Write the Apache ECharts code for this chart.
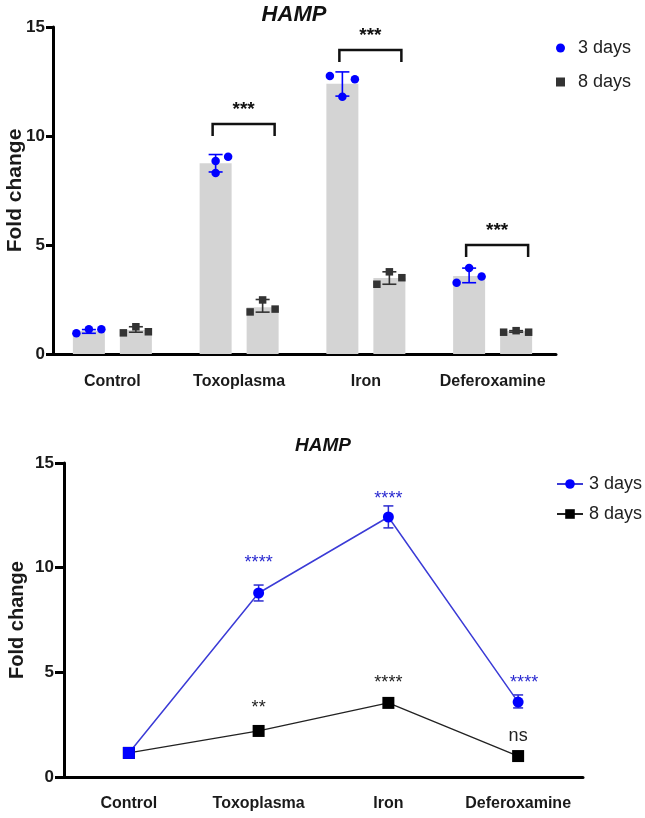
<!DOCTYPE html>
<html><head><meta charset="utf-8">
<script src="https://cdn.jsdelivr.net/npm/echarts@6/dist/echarts.min.js"></script>
<style>html,body{margin:0;padding:0;background:#fff}#c{width:645px;height:818px}</style>
</head><body><div id="c"></div>
<script>
// ---------- DATA ----------
const categories = ['Control', 'Toxoplasma', 'Iron', 'Deferoxamine'];
const yMin = 0, yMax = 15, yStep = 5;

// Top panel (bars = means, dots = replicates, error bars)
const bar3 = [1.05, 8.75, 12.4, 3.58];
const bar8 = [1.1, 2.15, 3.49, 1.05];
const err3Low = [0.95, 8.35, 11.83, 3.27];
const err3High = [1.12, 9.15, 12.94, 3.94];
const err8Low = [1.0, 1.92, 3.2, 1.0];
const err8High = [1.25, 2.5, 3.77, 1.07];
const reps3 = [[0.95, 1.13, 1.13], [8.85, 8.3, 9.05], [12.75, 11.8, 12.6], [3.27, 3.94, 3.55]];
const reps8 = [[0.97, 1.25, 1.02], [1.93, 2.48, 2.06], [3.2, 3.77, 3.5], [1.0, 1.07, 1.0]];
const jitter3 = [[-1, 0, 1], [0, 0, 1], [-1, 0, 1], [-1, 0, 1]];
const jitter8 = [[-1, 0, 1], [-1, 0, 1], [-1, 0, 1], [-1, 0, 1]];
const bracketCats = [1, 2, 3];
const bracketLevel = [10.55, 13.95, 5.0];
const bracketText = ['***', '***', '***'];

// Bottom panel (means with SD)
const line3 = [1.15, 8.79, 12.42, 3.58];
const line3Low = [1.15, 8.41, 11.9, 3.3];
const line3High = [1.15, 9.17, 12.95, 3.92];
const line8 = [1.15, 2.2, 3.54, 1.0];
const sig3Text = ['', '****', '****', '****'];
const sig3Level = [null, 10.37, 13.43, 4.63];
const sig8Text = ['', '**', '****', 'ns'];
const sig8Level = [null, 3.44, 4.63, 1.96];

// ---------- STYLE / LAYOUT ----------
const BLUE = '#0000ff', DARK = '#333333', BAR = '#d4d4d4';
const BAR_W = 32, BAR_OFF = 23.5, JIT = 12.5;
const FONT = 'Liberation Sans';

const chart = echarts.init(document.getElementById('c'), null, {renderer: 'canvas'});

function repData(reps, jit) {
  const out = [];
  reps.forEach((arr, i) => arr.forEach((v, k) => out.push([i, v, jit[i][k]])));
  return out;
}
function dotSeries(name, reps, jit, off, shape, color, size) {
  return {
    name, type: 'custom', xAxisIndex: 0, yAxisIndex: 0, z: 5,
    itemStyle: {color},
    data: repData(reps, jit),
    encode: {x: 0, y: 1},
    renderItem: (p, api) => {
      const c = api.coord([api.value(0), api.value(1)]);
      const x = c[0] + off + api.value(2) * JIT;
      if (shape === 'circle') return {type: 'circle', shape: {cx: x, cy: c[1], r: size / 2}, style: {fill: color}};
      return {type: 'rect', shape: {x: x - size / 2, y: c[1] - size / 2, width: size, height: size}, style: {fill: color}};
    }
  };
}
function errSeries(low, high, off, color, cap, xi, yi, lw) {
  return {
    type: 'custom', xAxisIndex: xi, yAxisIndex: yi, z: 4, silent: true,
    data: low.map((l, i) => [i, l, high[i]]),
    encode: {x: 0, y: [1, 2]},
    renderItem: (p, api) => {
      const a = api.coord([api.value(0), api.value(1)]);
      const b = api.coord([api.value(0), api.value(2)]);
      const x = a[0] + off;
      const st = {stroke: color, lineWidth: lw};
      return {type: 'group', children: [
        {type: 'line', shape: {x1: x, y1: a[1], x2: x, y2: b[1]}, style: st},
        {type: 'line', shape: {x1: x - cap, y1: a[1], x2: x + cap, y2: a[1]}, style: st},
        {type: 'line', shape: {x1: x - cap, y1: b[1], x2: x + cap, y2: b[1]}, style: st}
      ]};
    }
  };
}
const xLabel = {interval: 0, color: '#1a1a1a', fontFamily: FONT, fontWeight: 'bold', fontSize: 16};

const option = {
  animation: false,
  backgroundColor: '#fff',
  graphic: [
    {type: 'text', x: 294, y: 15, style: {text: 'HAMP', align: 'center', verticalAlign: 'middle', textAlign: 'center', textVerticalAlign: 'middle', font: 'italic bold 22px ' + FONT, fill: '#111'}},
    {type: 'text', x: 323, y: 446, style: {text: 'HAMP', align: 'center', verticalAlign: 'middle', textAlign: 'center', textVerticalAlign: 'middle', font: 'italic bold 19px ' + FONT, fill: '#111'}}
  ],
  legend: [
    {
      orient: 'vertical', left: 551, top: 34, itemGap: 16, itemWidth: 9, itemHeight: 9,
      data: [{name: '3 days', icon: 'circle'}, {name: '8 days', icon: 'rect'}],
      textStyle: {fontFamily: FONT, fontSize: 18, color: '#222', padding: [0, 0, 0, 8]},
      selectedMode: false
    },
    {
      orient: 'vertical', left: 551, top: 470, itemGap: 12, itemWidth: 26, itemHeight: 12,
      data: ['L3', 'L8'],
      formatter: n => (n === 'L3' ? '3 days' : '8 days'),
      textStyle: {fontFamily: FONT, fontSize: 18, color: '#222', padding: [0, 0, 0, 1]},
      selectedMode: false
    }
  ],
  grid: [
    {left: 49, width: 507, top: 27, height: 327, outerBoundsMode: 'none', containLabel: false},
    {left: 64, width: 519, top: 463, height: 314, outerBoundsMode: 'none', containLabel: false}
  ],
  xAxis: [
    {
      type: 'category', gridIndex: 0, data: categories,
      axisLine: {lineStyle: {color: '#000', width: 3}},
      axisTick: {interval: 0, alignWithLabel: true, length: 8, lineStyle: {color: '#000', width: 3}},
      axisLabel: Object.assign({margin: 20}, xLabel)
    },
    {
      type: 'category', gridIndex: 1, data: categories,
      axisLine: {lineStyle: {color: '#000', width: 3}},
      axisTick: {interval: 0, alignWithLabel: true, length: 9, lineStyle: {color: '#000', width: 3}},
      axisLabel: Object.assign({margin: 19}, xLabel)
    }
  ],
  yAxis: [
    {
      type: 'value', gridIndex: 0, min: yMin, max: yMax, interval: yStep, offset: -4,
      axisLine: {show: true, lineStyle: {color: '#000', width: 3}},
      axisTick: {show: true, length: 7, lineStyle: {color: '#000', width: 3}},
      splitLine: {show: false},
      axisLabel: {margin: 8, color: '#1a1a1a', fontFamily: FONT, fontWeight: 'bold', fontSize: 17},
      name: 'Fold change', nameLocation: 'middle', nameRotate: 90, nameGap: 27, nameMoveOverlap: false,
      nameTextStyle: {fontFamily: FONT, fontWeight: 'bold', fontSize: 21, color: '#1a1a1a'}
    },
    {
      type: 'value', gridIndex: 1, min: yMin, max: yMax, interval: yStep,
      axisLine: {show: true, lineStyle: {color: '#000', width: 3}},
      axisTick: {show: true, length: 9, lineStyle: {color: '#000', width: 3}},
      splitLine: {show: false},
      axisLabel: {margin: 10, color: '#1a1a1a', fontFamily: FONT, fontWeight: 'bold', fontSize: 17},
      name: 'Fold change', nameLocation: 'middle', nameRotate: 90, nameGap: 37, nameMoveOverlap: false,
      nameTextStyle: {fontFamily: FONT, fontWeight: 'bold', fontSize: 20, color: '#1a1a1a'}
    }
  ],
  series: [
    {name: 'bar3', type: 'bar', xAxisIndex: 0, yAxisIndex: 0, data: bar3, barWidth: BAR_W, barGap: (15 / BAR_W * 100) + '%', itemStyle: {color: BAR}, silent: true},
    {name: 'bar8', type: 'bar', xAxisIndex: 0, yAxisIndex: 0, data: bar8, barWidth: BAR_W, barGap: (15 / BAR_W * 100) + '%', itemStyle: {color: BAR}, silent: true},
    errSeries(err3Low, err3High, -BAR_OFF, BLUE, 7, 0, 0, 1.6),
    errSeries(err8Low, err8High, BAR_OFF, DARK, 7, 0, 0, 1.6),
    dotSeries('3 days', reps3, jitter3, -BAR_OFF, 'circle', BLUE, 8.5),
    dotSeries('8 days', reps8, jitter8, BAR_OFF, 'rect', DARK, 7.5),
    {
      type: 'custom', xAxisIndex: 0, yAxisIndex: 0, z: 6, silent: true,
      data: bracketCats.map((c, i) => [c, bracketLevel[i], i]),
      encode: {x: 0, y: 1},
      renderItem: (p, api) => {
        const c = api.coord([api.value(0), api.value(1)]);
        const x1 = c[0] - BAR_OFF - 3, x2 = c[0] + BAR_OFF + 12, y = c[1];
        return {type: 'group', children: [
          {type: 'polyline', shape: {points: [[x1, y + 12], [x1, y], [x2, y], [x2, y + 12]]}, style: {stroke: '#111', lineWidth: 2.5, fill: null}},
          {type: 'text', x: (x1 + x2) / 2, y: y - 5, style: {text: bracketText[api.value(2)], align: 'center', verticalAlign: 'bottom', textAlign: 'center', textVerticalAlign: 'bottom', font: 'bold 19px ' + FONT, fill: '#111'}}
        ]};
      }
    },
    // bottom panel
    {
      name: 'L8', type: 'line', xAxisIndex: 1, yAxisIndex: 1, data: line8, z: 3,
      symbol: 'rect', symbolSize: 12, itemStyle: {color: '#000'},
      lineStyle: {color: '#222', width: 1.3}
    },
    {
      name: 'L3', type: 'line', xAxisIndex: 1, yAxisIndex: 1, z: 4,
      data: line3.map((v, i) => i === 0 ? {value: v, symbol: 'rect', symbolSize: 12} : v),
      symbol: 'circle', symbolSize: 11, itemStyle: {color: BLUE},
      lineStyle: {color: '#3b3bd6', width: 1.5}
    },
    errSeries(line3Low, line3High, 0, '#2b2bd0', 5, 1, 1, 1.5),
    {
      type: 'custom', xAxisIndex: 1, yAxisIndex: 1, z: 6, silent: true,
      data: sig3Level.map((l, i) => [i, l, 0]).filter(d => d[1] !== null)
        .concat(sig8Level.map((l, i) => [i, l, 1]).filter(d => d[1] !== null)),
      encode: {x: 0, y: 1},
      renderItem: (p, api) => {
        const i = api.value(0), grp = api.value(2);
        const c = api.coord([i, api.value(1)]);
        const txt = grp === 0 ? sig3Text[i] : sig8Text[i];
        const isNs = txt === 'ns';
        const dx = (grp === 0 && i === 3) ? 6 : 0;
        return {type: 'text', x: c[0] + dx, y: c[1] + (isNs ? 0 : 3), style: {
          text: txt, align: 'center', verticalAlign: 'middle', textAlign: 'center', textVerticalAlign: 'middle',
          font: '18px ' + FONT, fill: grp === 0 ? '#2a2ad0' : '#222'}};
      }
    }
  ]
};
chart.setOption(option);
</script>
</body></html>
